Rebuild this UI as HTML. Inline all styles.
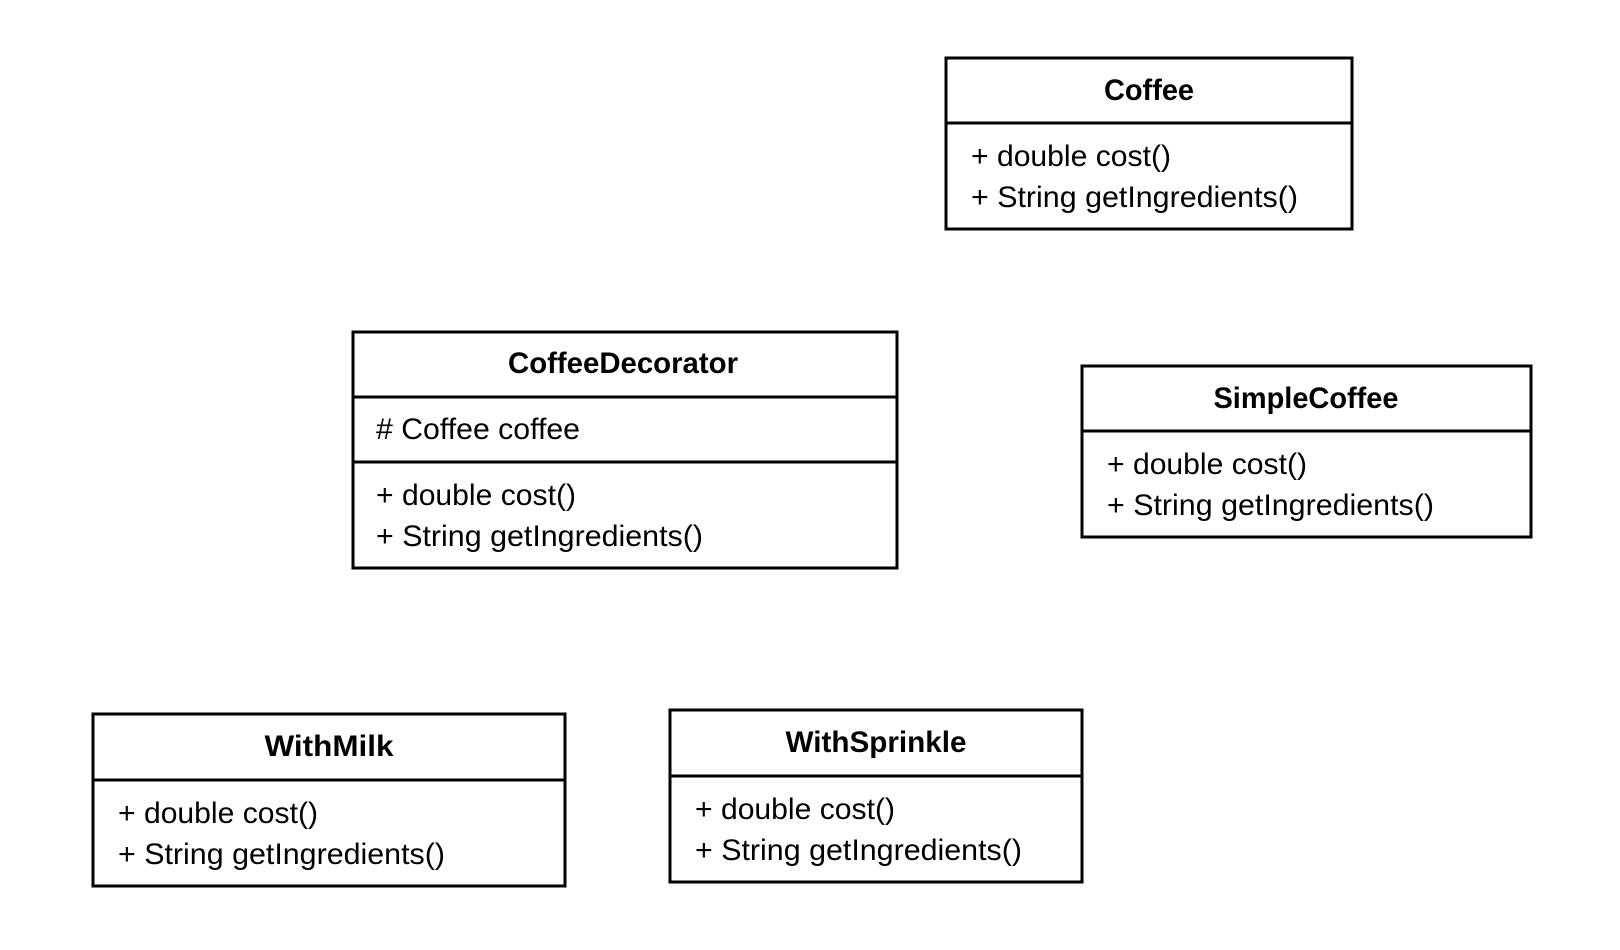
<!DOCTYPE html>
<html><head><meta charset="utf-8"><style>
html,body{margin:0;padding:0;background:#fff;}
svg{display:block;}
text{font-family:"Liberation Sans",sans-serif;fill:#000;}
.t{font-weight:bold;font-size:30px;}
.m{font-size:30px;}
</style></head><body>
<svg width="1620" height="950" viewBox="0 0 1620 950">
<g fill="none" stroke="#000" stroke-width="3">
<rect x="946" y="58" width="406" height="171"/><line x1="946" y1="123" x2="1352" y2="123"/>
</g>
<text class="t" x="1149" y="100" text-anchor="middle" textLength="90" lengthAdjust="spacingAndGlyphs">Coffee</text>
<text class="m" x="971" y="166" textLength="200" lengthAdjust="spacingAndGlyphs">+ double cost()</text>
<text class="m" x="971" y="207" textLength="327" lengthAdjust="spacingAndGlyphs">+ String getIngredients()</text>

<g fill="none" stroke="#000" stroke-width="3">
<rect x="353" y="332" width="544" height="236"/><line x1="353" y1="397" x2="897" y2="397"/><line x1="353" y1="462" x2="897" y2="462"/>
</g>
<text class="t" x="623" y="373" text-anchor="middle" textLength="230" lengthAdjust="spacingAndGlyphs">CoffeeDecorator</text>
<text class="m" x="376" y="439" textLength="204" lengthAdjust="spacingAndGlyphs"># Coffee coffee</text>
<text class="m" x="376" y="505" textLength="200" lengthAdjust="spacingAndGlyphs">+ double cost()</text>
<text class="m" x="376" y="546" textLength="327" lengthAdjust="spacingAndGlyphs">+ String getIngredients()</text>

<g fill="none" stroke="#000" stroke-width="3">
<rect x="1082" y="366" width="449" height="171"/><line x1="1082" y1="431" x2="1531" y2="431"/>
</g>
<text class="t" x="1306" y="408" text-anchor="middle" textLength="185" lengthAdjust="spacingAndGlyphs">SimpleCoffee</text>
<text class="m" x="1107" y="474" textLength="200" lengthAdjust="spacingAndGlyphs">+ double cost()</text>
<text class="m" x="1107" y="515" textLength="327" lengthAdjust="spacingAndGlyphs">+ String getIngredients()</text>

<g fill="none" stroke="#000" stroke-width="3">
<rect x="93" y="714" width="472" height="172"/><line x1="93" y1="780" x2="565" y2="780"/>
</g>
<text class="t" x="329" y="756" text-anchor="middle" textLength="129" lengthAdjust="spacingAndGlyphs">WithMilk</text>
<text class="m" x="118" y="823" textLength="200" lengthAdjust="spacingAndGlyphs">+ double cost()</text>
<text class="m" x="118" y="864" textLength="327" lengthAdjust="spacingAndGlyphs">+ String getIngredients()</text>

<g fill="none" stroke="#000" stroke-width="3">
<rect x="670" y="710" width="412" height="172"/><line x1="670" y1="776" x2="1082" y2="776"/>
</g>
<text class="t" x="876" y="752" text-anchor="middle" textLength="181" lengthAdjust="spacingAndGlyphs">WithSprinkle</text>
<text class="m" x="695" y="819" textLength="200" lengthAdjust="spacingAndGlyphs">+ double cost()</text>
<text class="m" x="695" y="860" textLength="327" lengthAdjust="spacingAndGlyphs">+ String getIngredients()</text>
</svg>
</body></html>
